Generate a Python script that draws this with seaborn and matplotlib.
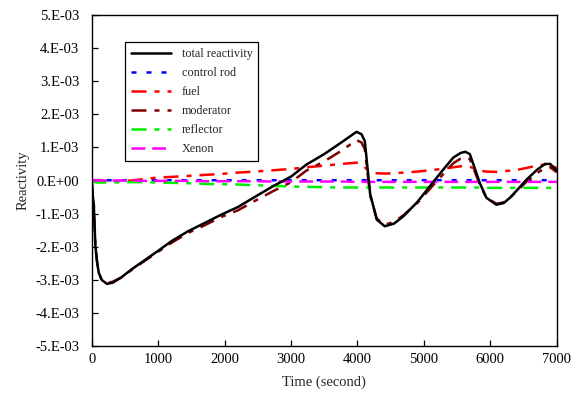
import matplotlib
matplotlib.use("Agg")
import matplotlib.pyplot as plt
import seaborn as sns
import pandas as pd

# time axis (s)
time_s = [0, 15, 30, 55, 80, 105, 150, 230, 320, 440, 600, 800, 1000, 1200, 1450,
          1700, 1950, 2200, 2450, 2730, 3000, 3230, 3500, 3750, 3985, 4060, 4110,
          4190, 4290, 4410, 4550, 4690, 4900, 5090, 5270, 5440, 5550, 5620, 5690,
          5760, 5840, 5940, 6090, 6200, 6295, 6420, 6545, 6700, 6820, 6900, 7000]

# reactivity components, in 1E-3 units
total = [0, -0.45, -0.70, -1.98, -2.45, -2.78, -3.00, -3.12, -3.08, -2.93, -2.68,
         -2.40, -2.12, -1.83, -1.53, -1.28, -1.03, -0.80, -0.50, -0.17, 0.12, 0.48,
         0.80, 1.14, 1.47, 1.40, 1.19, -0.40, -1.18, -1.38, -1.30, -1.08, -0.65,
         -0.17, 0.28, 0.69, 0.83, 0.87, 0.80, 0.40, -0.07, -0.52, -0.73, -0.68,
         -0.52, -0.25, 0.03, 0.32, 0.50, 0.50, 0.30]
control_rod = [0, 0.01, 0.01, 0.01, 0.01, 0.01, 0.01, 0.01, 0.01, 0.01, 0.01, 0.01,
               0.01, 0.01, 0.01, 0.01, 0.01, 0.01, 0.01, 0.01, 0.01, 0.01, 0.01, 0.01,
               0.01, 0.01, 0.01, 0.01, 0.01, 0.01, 0.01, 0.01, 0.01, 0.01, 0.01, 0.01,
               0.01, 0.01, 0.01, 0.01, 0.01, 0.01, 0.01, 0.01, 0.01, 0.01, 0.01, 0.01,
               0.01, 0.01, 0.01]
fuel = [0, 0, 0, 0, 0, 0, 0, -0.01, -0.01, -0.01, 0.0, 0.05, 0.09, 0.11, 0.14, 0.17,
        0.20, 0.24, 0.27, 0.31, 0.35, 0.40, 0.45, 0.50, 0.54, 0.50, 0.40, 0.26, 0.22,
        0.21, 0.22, 0.24, 0.27, 0.31, 0.35, 0.40, 0.43, 0.44, 0.42, 0.36, 0.30, 0.27,
        0.26, 0.28, 0.30, 0.33, 0.38, 0.45, 0.48, 0.45, 0.38]
moderator = [0, -0.45, -0.70, -1.98, -2.45, -2.78, -3.00, -3.10, -3.05, -2.93, -2.70,
             -2.42, -2.15, -1.88, -1.58, -1.35, -1.10, -0.90, -0.62, -0.32, -0.05, 0.30,
             0.58, 0.89, 1.22, 1.15, 0.95, -0.45, -1.15, -1.33, -1.25, -1.05, -0.68,
             -0.25, 0.15, 0.52, 0.66, 0.70, 0.65, 0.30, -0.12, -0.52, -0.70, -0.66,
             -0.52, -0.28, -0.03, 0.22, 0.38, 0.40, 0.25]
reflector = [0, -0.02, -0.04, -0.05, -0.06, -0.06, -0.06, -0.06, -0.06, -0.05, -0.05,
             -0.05, -0.06, -0.07, -0.08, -0.10, -0.11, -0.12, -0.14, -0.16, -0.18,
             -0.19, -0.20, -0.21, -0.21, -0.21, -0.21, -0.21, -0.21, -0.21, -0.21,
             -0.21, -0.21, -0.21, -0.21, -0.21, -0.21, -0.21, -0.21, -0.21, -0.21,
             -0.22, -0.22, -0.22, -0.22, -0.22, -0.22, -0.22, -0.22, -0.22, -0.22]
xenon = [0, 0, 0, 0, 0, 0, 0, 0, 0, 0, 0, -0.01, -0.01, -0.01, -0.01, -0.02, -0.02,
         -0.02, -0.02, -0.03, -0.03, -0.03, -0.03, -0.03, -0.04, -0.04, -0.04, -0.04,
         -0.04, -0.04, -0.04, -0.04, -0.04, -0.04, -0.04, -0.04, -0.04, -0.04, -0.04,
         -0.04, -0.04, -0.04, -0.04, -0.04, -0.04, -0.04, -0.04, -0.04, -0.04, -0.04,
         -0.04]

labels = ["total reactivity", "control rod", "fuel", "moderator", "reflector", "Xenon"]
y_ticks = [-5, -4, -3, -2, -1, 0, 1, 2, 3, 4, 5]
y_tick_labels = ["-5.E-03", "-4.E-03", "-3.E-03", "-2.E-03", "-1.E-03", "0.E+00",
                 "1.E-03", "2.E-03", "3.E-03", "4.E-03", "5.E-03"]
x_ticks = [0, 1000, 2000, 3000, 4000, 5000, 6000, 7000]

series = [total, control_rod, fuel, moderator, reflector, xenon]
df = pd.DataFrame({lab: vals for lab, vals in zip(labels, series)})
df["time"] = time_s
long_df = df.melt(id_vars="time", var_name="component", value_name="reactivity")

styles = {
    "total reactivity": dict(color="black", ls="-"),
    "control rod": dict(color="#0000ff", ls=(0, (2.0, 4.0))),
    "fuel": dict(color="#ff0000", ls=(0, (6, 3.2, 2, 3.2))),
    "moderator": dict(color="#800000", ls=(0, (6, 3.2, 2, 3.2))),
    "reflector": dict(color="#00ee00", ls=(0, (6, 3.2, 2, 3.2))),
    "Xenon": dict(color="#ff00ff", ls=(0, (5.5, 2.8))),
}

sns.set_style("ticks")
plt.rcParams["font.family"] = ["Liberation Serif", "DejaVu Serif"]

fig = plt.figure(figsize=(5.77, 4.03), dpi=100)
ax = fig.add_axes([0.159, 0.141, 0.806, 0.822])

# draw components first, total on top
draw_order = labels[1:] + labels[:1]
for lab in draw_order:
    sub = long_df[long_df["component"] == lab]
    sns.lineplot(data=sub, x="time", y="reactivity", ax=ax, color=styles[lab]["color"],
                 linestyle=styles[lab]["ls"], linewidth=1.8, label=lab)

h, l = ax.get_legend_handles_labels()
hmap = dict(zip(l, h))
leg = ax.legend([hmap[k] for k in labels], labels, loc="upper left",
                bbox_to_anchor=(0.071, 0.919), borderaxespad=0, fontsize=8.7,
                frameon=True, fancybox=False, edgecolor="black", framealpha=1,
                handlelength=3.3, handletextpad=0.9, labelspacing=0.58,
                borderpad=0.5)
leg.get_frame().set_linewidth(0.9)

ax.set_xlim(0, 7000)
ax.set_ylim(-5, 5)
ax.set_xticks(x_ticks)
ax.set_yticks(y_ticks)
ax.set_yticklabels(y_tick_labels)
ax.tick_params(axis="both", direction="in", length=4, width=0.9, labelsize=10.5,
               top=False, right=False, colors="black")
ax.tick_params(axis="y", pad=9)
ax.tick_params(axis="x", pad=5)
for sp in ax.spines.values():
    sp.set_visible(True)
    sp.set_color("black")
    sp.set_linewidth(1.0)

ax.set_xlabel("Time (second)", fontsize=10.5, labelpad=7)
ax.set_ylabel("Reactivity", fontsize=10.5, labelpad=4)

fig.savefig("out.png", dpi=100)
